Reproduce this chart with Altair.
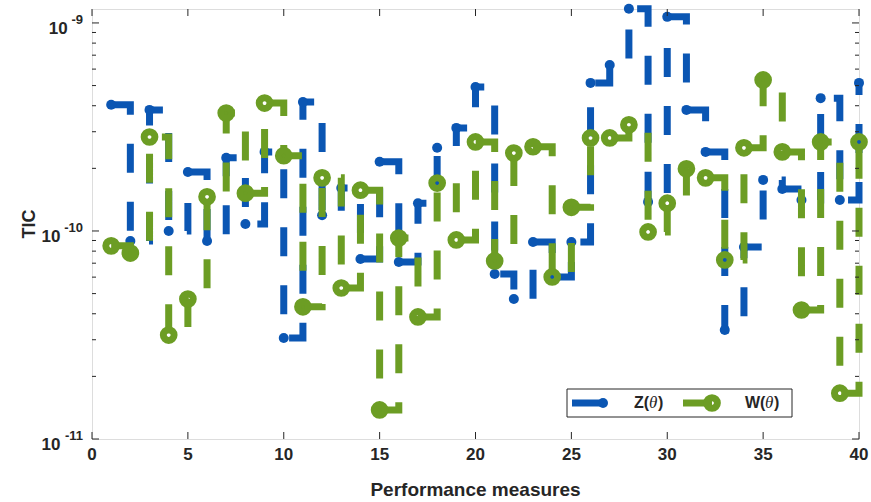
import altair as alt
import pandas as pd

# Performance measures 1..40 and the TIC value of each estimator
measures = list(range(1, 41))
z_theta = [4.04e-10, 8.95e-11, 3.82e-10, 1.00e-10, 1.92e-10, 8.95e-11, 2.25e-10, 1.08e-10,
           2.40e-10, 3.06e-11, 4.17e-10, 1.19e-10, 1.61e-10, 7.33e-11, 2.15e-10, 7.10e-11,
           1.36e-10, 2.51e-10, 3.13e-10, 4.92e-10, 6.21e-11, 4.71e-11, 8.85e-11, 6.01e-11,
           8.85e-11, 5.15e-10, 6.28e-10, 1.17e-9, 1.38e-10, 1.07e-9, 3.82e-10, 2.40e-10,
           3.34e-11, 8.38e-11, 1.76e-10, 1.59e-10, 1.41e-10, 4.35e-10, 1.41e-10, 5.15e-10]
w_theta = [8.48e-11, 7.83e-11, 2.83e-10, 3.16e-11, 4.71e-11, 1.46e-10, 3.69e-10, 1.52e-10,
           4.12e-10, 2.30e-10, 4.32e-11, 1.80e-10, 5.32e-11, 1.57e-10, 1.38e-11, 9.25e-11,
           3.86e-11, 1.70e-10, 9.06e-11, 2.68e-10, 7.18e-11, 2.37e-10, 2.54e-10, 6.01e-11,
           1.30e-10, 2.80e-10, 2.80e-10, 3.24e-10, 9.89e-11, 1.36e-10, 1.99e-10, 1.80e-10,
           7.26e-11, 2.51e-10, 5.32e-10, 2.40e-10, 4.17e-11, 2.68e-10, 1.66e-11, 2.68e-10]

x_ticks = [0, 5, 10, 15, 20, 25, 30, 35, 40]
y_decades = [-11, -10, -9]
minor_mult = [2, 3, 4, 5, 6, 7, 8, 9]

W, H = 767, 430
BLUE = "#0B56B3"
GREEN = "#6C9D24"
INK = "#262626"
FONT = "Liberation Sans"

df = pd.DataFrame({"measure": measures, "Z": z_theta, "W": w_theta})
xs = alt.Scale(domain=[0, 40], nice=False, zero=False)
ys = alt.Scale(type="log", domain=[1e-11, 1.167e-9], nice=False)

base = alt.Chart(df)
dash = [29, 29]

def X(field):
    return alt.X(field, scale=xs, axis=None)

def Y(field):
    return alt.Y(field, scale=ys, axis=None)

z_line = base.mark_line(interpolate="step-after", color=BLUE, strokeWidth=7,
                        strokeDash=dash, strokeCap="butt").encode(x=X("measure:Q"), y=Y("Z:Q"))
z_pts = base.mark_point(shape="circle", filled=True, color=BLUE, size=100,
                        opacity=1).encode(x=X("measure:Q"), y=Y("Z:Q"))
w_line = base.mark_line(interpolate="step-after", color=GREEN, strokeWidth=7,
                        strokeDash=dash, strokeCap="butt").encode(x=X("measure:Q"), y=Y("W:Q"))
w_pts = base.mark_point(shape="circle", filled=False, color=GREEN, size=115, strokeWidth=7,
                        opacity=1).encode(x=X("measure:Q"), y=Y("W:Q"))

# inward tick marks on all four sides
xt = pd.DataFrame({"t": x_ticks})
xtick_bottom = alt.Chart(xt).mark_rule(color=INK, strokeWidth=1).encode(
    x=X("t:Q"), y=alt.value(H), y2=alt.value(H - 7))
xtick_top = alt.Chart(xt).mark_rule(color=INK, strokeWidth=1).encode(
    x=X("t:Q"), y=alt.value(0), y2=alt.value(7))
xtick_labels = alt.Chart(xt).mark_text(baseline="middle", align="center", font=FONT,
                                       fontSize=17, fontWeight="bold", color=INK).encode(
    x=X("t:Q"), y=alt.value(H + 16), text="t:Q")

major = pd.DataFrame({"v": [10.0 ** e for e in y_decades]})
minor = pd.DataFrame({"v": [m * 10.0 ** e for e in y_decades[:-1] for m in minor_mult]})

def yticks(frame, length):
    left = alt.Chart(frame).mark_rule(color=INK, strokeWidth=1).encode(
        y=Y("v:Q"), x=alt.value(0), x2=alt.value(length))
    right = alt.Chart(frame).mark_rule(color=INK, strokeWidth=1).encode(
        y=Y("v:Q"), x=alt.value(W), x2=alt.value(W - length))
    return left + right

# y tick labels written as 10 with a raised exponent
ylab = pd.DataFrame({"v": [10.0 ** e for e in y_decades], "exp": [str(e) for e in y_decades]})
exp_text = alt.Chart(ylab).mark_text(align="right", baseline="middle", font=FONT,
                                     fontSize=13, fontWeight="bold", color=INK, dy=-3).encode(
    y=Y("v:Q"), x=alt.value(-9), text="exp:N")
ten_text = alt.Chart(ylab).transform_calculate(
    xo="-10 - length(datum.exp) * 7.2"
).mark_text(align="right", baseline="middle", font=FONT, fontSize=17, fontWeight="bold",
            color=INK, dy=6).encode(
    y=Y("v:Q"), x=alt.X("xo:Q", scale=None, axis=None), text=alt.value("10"))

one = alt.Chart(pd.DataFrame({"k": [0]}))
y_title = one.mark_text(angle=270, font=FONT, fontSize=18, fontWeight="bold", color=INK,
                        baseline="middle", align="center").encode(
    x=alt.value(-62), y=alt.value(H / 2), text=alt.value("TIC"))
x_title = one.mark_text(font=FONT, fontSize=19, fontWeight="bold", color=INK,
                        baseline="middle", align="center").encode(
    x=alt.value(W / 2), y=alt.value(H + 51), text=alt.value("Performance measures"))

# legend box in the lower right corner
LX, LY = 475, 380
leg_box = one.mark_rect(fill="white", stroke=INK, strokeWidth=1).encode(
    x=alt.value(LX), x2=alt.value(LX + 225), y=alt.value(LY), y2=alt.value(LY + 28))
leg_zl = one.mark_rule(color=BLUE, strokeWidth=7).encode(
    x=alt.value(LX + 5), x2=alt.value(LX + 37), y=alt.value(LY + 14))
leg_zp = one.mark_point(shape="circle", filled=True, color=BLUE, size=100, opacity=1).encode(
    x=alt.value(LX + 36), y=alt.value(LY + 14))
leg_wl = one.mark_rule(color=GREEN, strokeWidth=7).encode(
    x=alt.value(LX + 116), x2=alt.value(LX + 145), y=alt.value(LY + 14))
leg_wp = one.mark_point(shape="circle", filled=False, color=GREEN, size=115, strokeWidth=7,
                        opacity=1).encode(x=alt.value(LX + 145), y=alt.value(LY + 14))

def legend_label(x0, letter, letter_w):
    parts = []
    parts.append(one.mark_text(align="left", baseline="middle", font=FONT, fontSize=16,
                               fontWeight="bold", color=INK).encode(
        x=alt.value(x0), y=alt.value(LY + 14), text=alt.value(letter + "(")))
    parts.append(one.mark_text(align="left", baseline="middle", font="Liberation Serif",
                               fontSize=17, fontStyle="italic", color=INK).encode(
        x=alt.value(x0 + letter_w), y=alt.value(LY + 14), text=alt.value("θ")))
    parts.append(one.mark_text(align="left", baseline="middle", font=FONT, fontSize=16,
                               fontWeight="bold", color=INK).encode(
        x=alt.value(x0 + letter_w + 9), y=alt.value(LY + 14), text=alt.value(")")))
    return alt.layer(*parts)

chart = alt.layer(
    z_line, z_pts, w_line, w_pts,
    xtick_bottom, xtick_top, yticks(major, 7), yticks(minor, 4),
    xtick_labels, exp_text, ten_text, y_title, x_title,
    leg_box, leg_zl, leg_zp, leg_wl, leg_wp,
    legend_label(LX + 67, "Z", 15), legend_label(LX + 178, "W", 20),
).properties(
    width=W, height=H,
    autosize=alt.AutoSizeParams(type="none"),
    padding={"left": 92, "top": 9, "right": 12, "bottom": 63},
).configure_view(stroke=INK, strokeWidth=1).configure(background="white")

chart.save("out.html", embed_options={"renderer": "svg", "actions": False})
